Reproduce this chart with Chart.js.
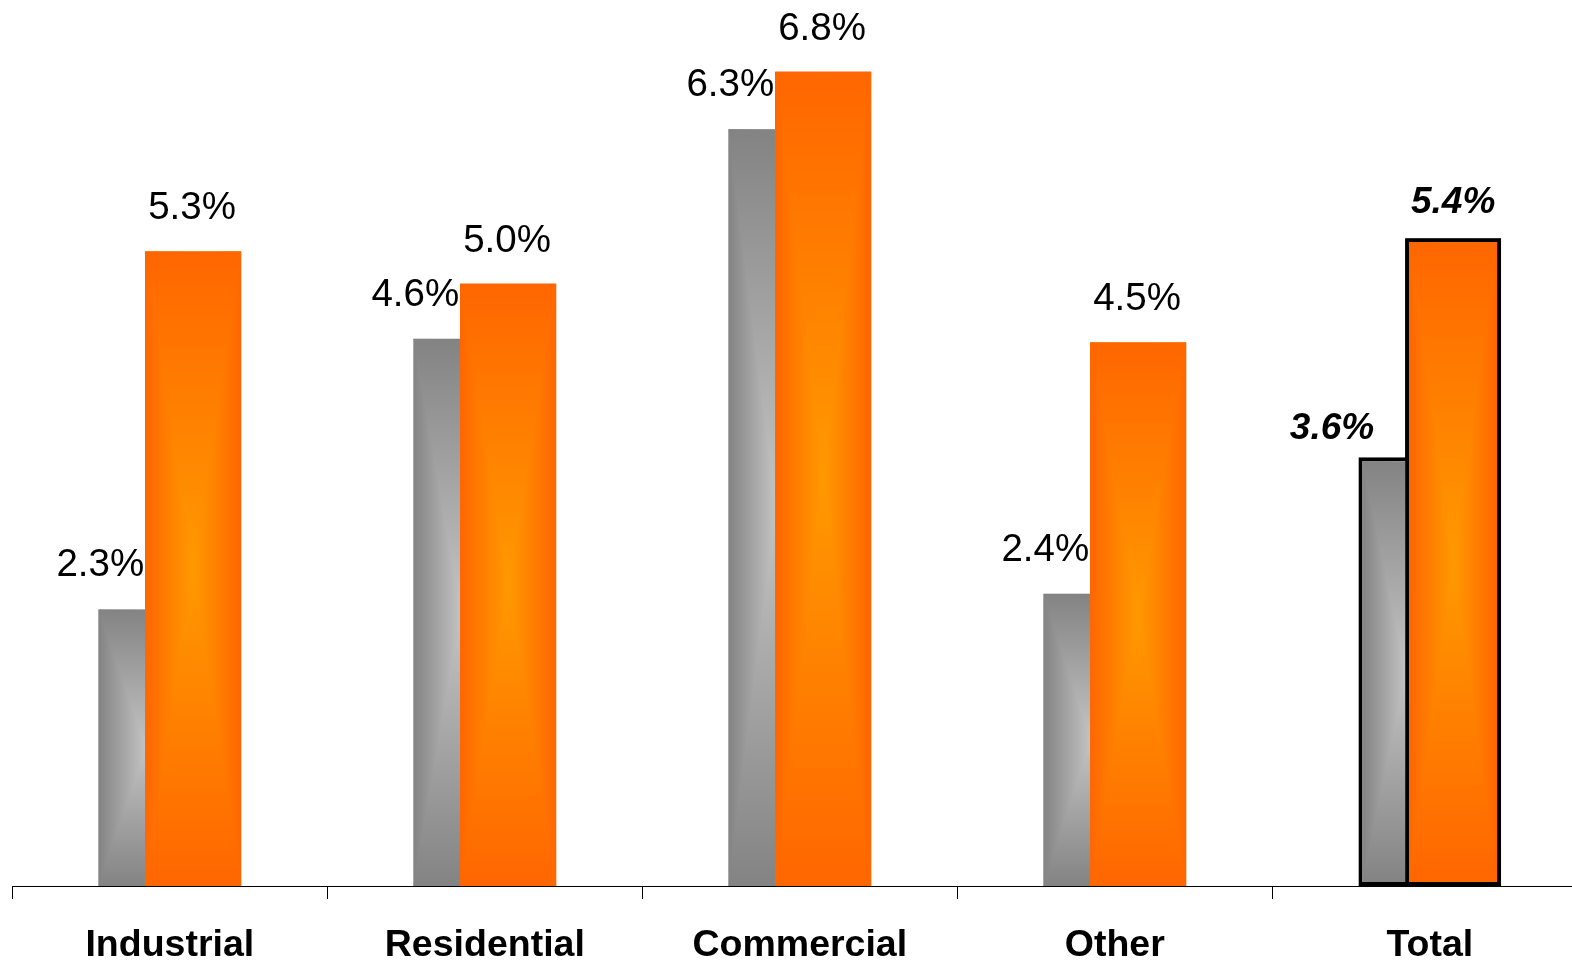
<!DOCTYPE html>
<html>
<head>
<meta charset="utf-8">
<script src="https://cdn.jsdelivr.net/npm/chart.js@4.4.0/dist/chart.umd.min.js"></script>
<style>
  html, body { margin: 0; padding: 0; background: #ffffff; overflow: hidden; width: 1572px; height: 960px; }
  #c { position: absolute; left: 0; top: 0; }
</style>
</head>
<body>
<canvas id="c" width="1595" height="960"></canvas>
<script>
// ---- data ----
const categories = ['Industrial', 'Residential', 'Commercial', 'Other', 'Total'];
const seriesGray = [2.31, 4.57, 6.32, 2.44, 3.58];
const seriesOrange = [5.3, 5.03, 6.8, 4.54, 5.41];
const highlightCategory = 'Total';
const yMin = 0;
const yMax = 7.4;

// ---- styles ----
const GRAY_EDGE = '#838383', GRAY_CENTER = '#c4c4c4';
const ORANGE_EDGE = '#ff6600', ORANGE_CENTER = '#ff9900';
const FONT = '"Liberation Sans", Arial, sans-serif';
const fmt = v => v.toFixed(1) + '%';
const isHL = ctx => categories[ctx.dataIndex] === highlightCategory;

function paintPathGradient(ctx, el, cIn, cOut) {
  const bw = typeof el.options.borderWidth === 'number' ? el.options.borderWidth : 0;
  const L = el.x - el.width / 2 + bw, R = el.x + el.width / 2 - bw;
  const T = Math.min(el.y, el.base) + bw, B = Math.max(el.y, el.base) - bw;
  if (R <= L || B <= T) return;
  const cx = (L + R) / 2, cy = (T + B) / 2;
  ctx.save();
  ctx.beginPath();
  ctx.rect(L, T, R - L, B - T);
  ctx.clip();
  let g = ctx.createLinearGradient(L, 0, R, 0);
  g.addColorStop(0, cOut); g.addColorStop(0.5, cIn); g.addColorStop(1, cOut);
  ctx.fillStyle = g;
  ctx.fillRect(L, T, R - L, B - T);
  g = ctx.createLinearGradient(0, T, 0, cy);
  g.addColorStop(0, cOut); g.addColorStop(1, cIn);
  ctx.fillStyle = g;
  ctx.beginPath(); ctx.moveTo(L, T); ctx.lineTo(R, T); ctx.lineTo(cx, cy); ctx.closePath(); ctx.fill();
  g = ctx.createLinearGradient(0, B, 0, cy);
  g.addColorStop(0, cOut); g.addColorStop(1, cIn);
  ctx.fillStyle = g;
  ctx.beginPath(); ctx.moveTo(L, B); ctx.lineTo(R, B); ctx.lineTo(cx, cy); ctx.closePath(); ctx.fill();
  ctx.restore();
}

const barStylePlugin = {
  id: 'barStyle',
  afterDatasetsDraw(chart) {
    const ctx = chart.ctx;
    const metaG = chart.getDatasetMeta(0), metaO = chart.getDatasetMeta(1);
    metaG.data.forEach(el => paintPathGradient(ctx, el, GRAY_CENTER, GRAY_EDGE));
    metaO.data.forEach(el => { el.draw(ctx); paintPathGradient(ctx, el, ORANGE_CENTER, ORANGE_EDGE); });

    ctx.save();
    ctx.fillStyle = '#000';
    ctx.textBaseline = 'alphabetic';
    categories.forEach((cat, i) => {
      const hl = cat === highlightCategory;
      ctx.font = hl ? 'italic bold 37px ' + FONT : '38.5px ' + FONT;
      const g = metaG.data[i], o = metaO.data[i];
      const oLeft = o.x - o.width / 2;
      ctx.textAlign = 'right';
      ctx.fillText(fmt(seriesGray[i]), oLeft - (hl ? 31 : 1), g.y - (hl ? 18 : 33));
      if (hl) {
        ctx.textAlign = 'center';
        ctx.fillText(fmt(seriesOrange[i]), o.x, o.y - 25);
      } else {
        ctx.textAlign = 'left';
        ctx.fillText(fmt(seriesOrange[i]), oLeft + 3, o.y - 32);
      }
    });
    ctx.restore();
  }
};

new Chart(document.getElementById('c'), {
  type: 'bar',
  data: {
    labels: categories,
    datasets: [
      {
        label: 'Series 1',
        data: seriesGray,
        backgroundColor: GRAY_EDGE,
        borderColor: '#000',
        borderWidth: ctx => isHL(ctx) ? 4 : 0,
        borderSkipped: false,
        categoryPercentage: 0.2965,
        barPercentage: 2.056
      },
      {
        label: 'Series 2',
        data: seriesOrange,
        backgroundColor: ORANGE_EDGE,
        borderColor: '#000',
        borderWidth: ctx => isHL(ctx) ? 4 : 0,
        borderSkipped: false,
        categoryPercentage: 0.2965,
        barPercentage: 2.056
      }
    ]
  },
  options: {
    responsive: false,
    animation: false,
    devicePixelRatio: 1,
    layout: { padding: { left: 12.3, right: 7.7, top: 0, bottom: 0 } },
    plugins: { legend: { display: false }, tooltip: { enabled: false }, title: { display: false } },
    scales: {
      x: {
        type: 'category',
        offset: true,
        grid: { offset: true, drawOnChartArea: false, drawTicks: true, tickLength: 13, color: '#000', tickColor: '#000', lineWidth: 1 },
        border: { display: true, color: '#000', width: 1 },
        ticks: { color: '#000', font: { family: FONT, size: 37.5, weight: 'bold' }, padding: 24, maxRotation: 0, autoSkip: false },
        afterFit: s => { s.height = 74; }
      },
      y: { display: false, min: yMin, max: yMax }
    }
  },
  plugins: [barStylePlugin]
});
</script>
</body>
</html>
